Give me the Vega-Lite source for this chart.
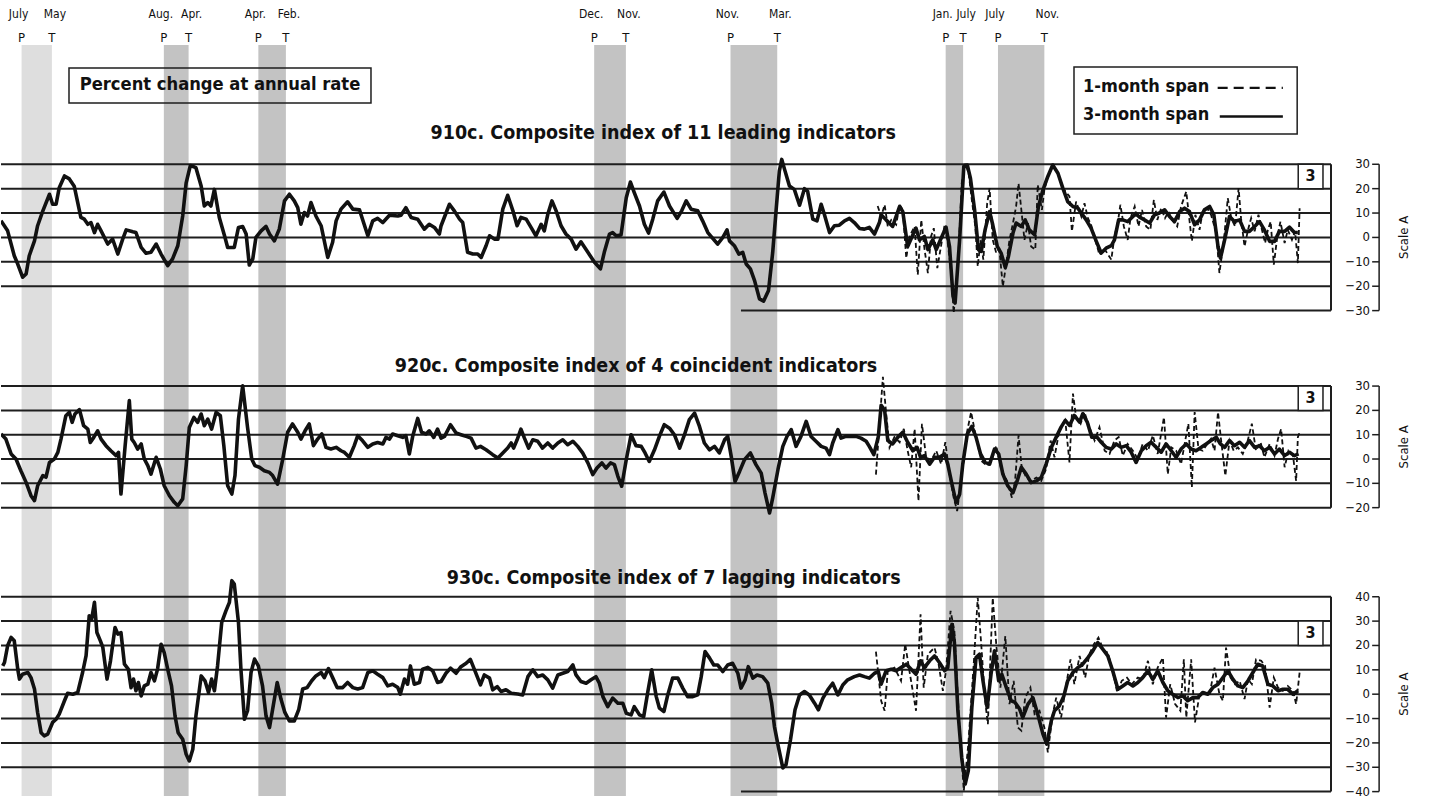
{
"$schema":"https://vega.github.io/schema/vega-lite/v6.json",
"padding":0,
"background":"white",
"spacing":0,
"bounds":"flush",
"config":{"view":{"stroke":null}},
"datasets":{
"rec":[{"s":1953.5,"e":1954.37},{"s":1957.58,"e":1958.29},{"s":1960.29,"e":1961.08},{"s":1969.92,"e":1970.83},{"s":1973.83,"e":1975.17},{"s":1980.0,"e":1980.5},{"s":1981.5,"e":1982.83}],
"pt":[{"t":1953.5,"m":"July","p":"P"},{"t":1954.37,"m":"May","p":"T"},{"t":1957.58,"m":"Aug.","p":"P"},{"t":1958.29,"m":"Apr.","p":"T"},{"t":1960.29,"m":"Apr.","p":"P"},{"t":1961.08,"m":"Feb.","p":"T"},{"t":1969.92,"m":"Dec.","p":"P"},{"t":1970.83,"m":"Nov.","p":"T"},{"t":1973.83,"m":"Nov.","p":"P"},{"t":1975.17,"m":"Mar.","p":"T"},{"t":1980.0,"m":"Jan.","p":"P"},{"t":1980.5,"m":"July","p":"T"},{"t":1981.5,"m":"July","p":"P"},{"t":1982.83,"m":"Nov.","p":"T"}],
"g1":[{"g":30},{"g":20},{"g":10},{"g":0},{"g":-10},{"g":-20},{"g":-30}],
"g2":[{"g":30},{"g":20},{"g":10},{"g":0},{"g":-10},{"g":-20}],
"g3":[{"g":40},{"g":30},{"g":20},{"g":10},{"g":0},{"g":-10},{"g":-20},{"g":-30},{"g":-40}],
"p1":[{"t":1952.91,"v":6.8},{"t":1953.10,"v":2.7},{"t":1953.29,"v":-7.5},{"t":1953.39,"v":-10.9},{"t":1953.53,"v":-16.3},{"t":1953.63,"v":-15},{"t":1953.72,"v":-7.5},{"t":1953.87,"v":-1.4},{"t":1953.96,"v":4.8},{"t":1954.11,"v":10.9},{"t":1954.30,"v":17.7},{"t":1954.39,"v":13.6},{"t":1954.49,"v":13.6},{"t":1954.58,"v":20.4},{"t":1954.73,"v":25.2},{"t":1954.87,"v":24},{"t":1955.01,"v":21},{"t":1955.20,"v":8.2},{"t":1955.30,"v":7.5},{"t":1955.40,"v":5.4},{"t":1955.49,"v":6.1},{"t":1955.59,"v":2},{"t":1955.68,"v":5.4},{"t":1955.78,"v":2.7},{"t":1955.97,"v":-2.7},{"t":1956.11,"v":-0.7},{"t":1956.26,"v":-6.8},{"t":1956.40,"v":-0.7},{"t":1956.50,"v":3.1},{"t":1956.69,"v":2.3},{"t":1956.78,"v":2},{"t":1956.93,"v":-4.1},{"t":1957.07,"v":-6.5},{"t":1957.21,"v":-6.1},{"t":1957.36,"v":-2.7},{"t":1957.50,"v":-6.8},{"t":1957.69,"v":-11.6},{"t":1957.83,"v":-8.8},{"t":1957.98,"v":-3.4},{"t":1958.12,"v":8.8},{"t":1958.22,"v":22.4},{"t":1958.34,"v":29.5},{"t":1958.50,"v":28.6},{"t":1958.65,"v":21.1},{"t":1958.74,"v":12.9},{"t":1958.84,"v":14.3},{"t":1958.93,"v":12.9},{"t":1959.03,"v":19.7},{"t":1959.17,"v":8.2},{"t":1959.32,"v":0.7},{"t":1959.41,"v":-4.1},{"t":1959.60,"v":-4.1},{"t":1959.72,"v":4.1},{"t":1959.84,"v":4.5},{"t":1959.94,"v":1.4},{"t":1960.03,"v":-11.3},{"t":1960.13,"v":-8.8},{"t":1960.22,"v":0},{"t":1960.37,"v":2.7},{"t":1960.51,"v":4.5},{"t":1960.61,"v":1.4},{"t":1960.75,"v":-1.4},{"t":1960.89,"v":3.4},{"t":1961.04,"v":15},{"t":1961.18,"v":17.7},{"t":1961.32,"v":15},{"t":1961.42,"v":12.2},{"t":1961.51,"v":5.4},{"t":1961.61,"v":10.2},{"t":1961.70,"v":8.8},{"t":1961.80,"v":14.3},{"t":1961.94,"v":8.8},{"t":1962.09,"v":4.8},{"t":1962.28,"v":-8.2},{"t":1962.42,"v":-2},{"t":1962.52,"v":6.8},{"t":1962.66,"v":11.6},{"t":1962.85,"v":14.6},{"t":1963.00,"v":11.6},{"t":1963.19,"v":11.3},{"t":1963.43,"v":0.7},{"t":1963.57,"v":6.8},{"t":1963.71,"v":7.8},{"t":1963.86,"v":6.1},{"t":1964.05,"v":9.1},{"t":1964.29,"v":8.8},{"t":1964.38,"v":9.1},{"t":1964.52,"v":12.2},{"t":1964.67,"v":8.2},{"t":1964.86,"v":7.5},{"t":1965.05,"v":3.4},{"t":1965.19,"v":5.4},{"t":1965.34,"v":4.1},{"t":1965.48,"v":1.4},{"t":1965.53,"v":4.8},{"t":1965.77,"v":13.6},{"t":1965.91,"v":10.9},{"t":1966.06,"v":7.5},{"t":1966.15,"v":6.1},{"t":1966.29,"v":-6.1},{"t":1966.44,"v":-6.8},{"t":1966.58,"v":-6.8},{"t":1966.68,"v":-8.2},{"t":1966.82,"v":-3.4},{"t":1966.92,"v":0.7},{"t":1967.06,"v":-0.7},{"t":1967.16,"v":-0.7},{"t":1967.30,"v":11.6},{"t":1967.44,"v":17.3},{"t":1967.59,"v":10.9},{"t":1967.71,"v":4.8},{"t":1967.82,"v":8.2},{"t":1967.97,"v":7.5},{"t":1968.11,"v":4.1},{"t":1968.25,"v":0.7},{"t":1968.40,"v":5.4},{"t":1968.49,"v":2.7},{"t":1968.59,"v":9.5},{"t":1968.71,"v":15},{"t":1968.83,"v":10.9},{"t":1968.97,"v":4.8},{"t":1969.11,"v":1.4},{"t":1969.26,"v":-0.7},{"t":1969.40,"v":-4.8},{"t":1969.54,"v":-1.8},{"t":1969.74,"v":-6.1},{"t":1969.93,"v":-10.2},{"t":1970.10,"v":-12.9},{"t":1970.21,"v":-6.1},{"t":1970.36,"v":1.4},{"t":1970.45,"v":2},{"t":1970.55,"v":0.7},{"t":1970.69,"v":1},{"t":1970.84,"v":16.3},{"t":1970.96,"v":22.7},{"t":1971.07,"v":18.4},{"t":1971.22,"v":12.9},{"t":1971.36,"v":5.4},{"t":1971.48,"v":1.8},{"t":1971.60,"v":7.5},{"t":1971.74,"v":15},{"t":1971.92,"v":18.6},{"t":1972.08,"v":12.9},{"t":1972.30,"v":7.8},{"t":1972.43,"v":10.9},{"t":1972.56,"v":15},{"t":1972.70,"v":11.6},{"t":1972.89,"v":10.9},{"t":1973.03,"v":6.8},{"t":1973.18,"v":2},{"t":1973.32,"v":-0.4},{"t":1973.46,"v":-2.7},{"t":1973.61,"v":0},{"t":1973.73,"v":3.1},{"t":1973.80,"v":-1.4},{"t":1973.94,"v":-3.4},{"t":1974.07,"v":-6.8},{"t":1974.18,"v":-6.1},{"t":1974.28,"v":-10.9},{"t":1974.40,"v":-12.9},{"t":1974.52,"v":-17.7},{"t":1974.66,"v":-25.2},{"t":1974.78,"v":-26.1},{"t":1974.92,"v":-21.8},{"t":1975.04,"v":-6.1},{"t":1975.14,"v":11.6},{"t":1975.23,"v":27.2},{"t":1975.30,"v":32},{"t":1975.38,"v":27.9},{"t":1975.52,"v":21.1},{"t":1975.66,"v":19.7},{"t":1975.81,"v":13.2},{"t":1975.95,"v":20},{"t":1976.04,"v":19},{"t":1976.19,"v":7.5},{"t":1976.31,"v":6.8},{"t":1976.43,"v":13.6},{"t":1976.52,"v":9.5},{"t":1976.67,"v":2},{"t":1976.81,"v":4.8},{"t":1976.95,"v":5},{"t":1977.10,"v":6.8},{"t":1977.24,"v":7.8},{"t":1977.38,"v":6.1},{"t":1977.53,"v":3.7},{"t":1977.67,"v":3.4},{"t":1977.81,"v":4.1},{"t":1977.96,"v":1.4},{"t":1978.10,"v":6.1},{"t":1978.15,"v":9.3},{"t":1978.29,"v":7.2},{"t":1978.48,"v":4.5},{"t":1978.68,"v":12.7},{"t":1978.77,"v":10.6},{"t":1978.91,"v":-3.7},{"t":1979.06,"v":1.1},{"t":1979.15,"v":3.8},{"t":1979.25,"v":-1},{"t":1979.39,"v":0.4},{"t":1979.49,"v":-5},{"t":1979.63,"v":-1},{"t":1979.73,"v":-5},{"t":1979.87,"v":-0.3},{"t":1980.01,"v":4.2},{"t":1980.11,"v":-3.7},{"t":1980.21,"v":-24.1},{"t":1980.27,"v":-26.9},{"t":1980.40,"v":-1},{"t":1980.52,"v":29.1},{"t":1980.62,"v":29.7},{"t":1980.71,"v":24.3},{"t":1980.83,"v":11.3},{"t":1980.94,"v":-5},{"t":1981.02,"v":-5.7},{"t":1981.13,"v":3.1},{"t":1981.26,"v":10.6},{"t":1981.35,"v":5.2},{"t":1981.48,"v":-3.7},{"t":1981.59,"v":-6.4},{"t":1981.71,"v":-12.3},{"t":1981.80,"v":-7.8},{"t":1981.93,"v":1.8},{"t":1982.02,"v":5.9},{"t":1982.17,"v":4.5},{"t":1982.28,"v":7.2},{"t":1982.40,"v":3.1},{"t":1982.55,"v":1.1},{"t":1982.66,"v":12.7},{"t":1982.79,"v":19.5},{"t":1982.93,"v":25},{"t":1983.07,"v":29.7},{"t":1983.22,"v":26.3},{"t":1983.36,"v":20.2},{"t":1983.50,"v":14.7},{"t":1983.65,"v":12.7},{"t":1983.79,"v":12},{"t":1983.89,"v":10},{"t":1984.03,"v":7.2},{"t":1984.17,"v":3.8},{"t":1984.32,"v":-1.6},{"t":1984.46,"v":-6.4},{"t":1984.60,"v":-4.4},{"t":1984.75,"v":-3.4},{"t":1984.84,"v":-1},{"t":1984.96,"v":7.2},{"t":1985.08,"v":7.2},{"t":1985.22,"v":6.5},{"t":1985.37,"v":8.6},{"t":1985.46,"v":9.7},{"t":1985.56,"v":8.3},{"t":1985.70,"v":7.2},{"t":1985.85,"v":5.9},{"t":1985.99,"v":9.3},{"t":1986.13,"v":10},{"t":1986.28,"v":11.3},{"t":1986.42,"v":8.6},{"t":1986.56,"v":6.5},{"t":1986.71,"v":10.6},{"t":1986.85,"v":12},{"t":1986.99,"v":10.6},{"t":1987.14,"v":5.2},{"t":1987.28,"v":7.2},{"t":1987.42,"v":11.3},{"t":1987.57,"v":12.7},{"t":1987.69,"v":9.3},{"t":1987.81,"v":-3.7},{"t":1987.88,"v":-8.5},{"t":1988.00,"v":-1},{"t":1988.14,"v":8.6},{"t":1988.28,"v":6.5},{"t":1988.43,"v":7.2},{"t":1988.57,"v":2.5},{"t":1988.71,"v":2.5},{"t":1988.86,"v":4.5},{"t":1989.00,"v":6.5},{"t":1989.14,"v":3.1},{"t":1989.29,"v":-1.6},{"t":1989.43,"v":-1.6},{"t":1989.57,"v":2.5},{"t":1989.72,"v":2.5},{"t":1989.86,"v":4.2},{"t":1990.00,"v":2},{"t":1990.10,"v":2}],
"p1d":[{"t":1978.05,"v":12.9},{"t":1978.15,"v":8.6},{"t":1978.25,"v":13.4},{"t":1978.34,"v":4.5},{"t":1978.44,"v":7.2},{"t":1978.58,"v":5.2},{"t":1978.68,"v":13.4},{"t":1978.77,"v":11.3},{"t":1978.87,"v":-8.5},{"t":1978.96,"v":0.4},{"t":1979.11,"v":4.5},{"t":1979.20,"v":-15.3},{"t":1979.30,"v":7.2},{"t":1979.39,"v":-4.4},{"t":1979.49,"v":-14.6},{"t":1979.58,"v":0.4},{"t":1979.66,"v":3.8},{"t":1979.76,"v":-12.6},{"t":1979.85,"v":-5},{"t":1979.97,"v":5.2},{"t":1980.06,"v":-2.3},{"t":1980.16,"v":-14.6},{"t":1980.23,"v":-31},{"t":1980.35,"v":-11.9},{"t":1980.46,"v":22.2},{"t":1980.56,"v":30.4},{"t":1980.66,"v":26.3},{"t":1980.75,"v":15.4},{"t":1980.85,"v":4.5},{"t":1980.92,"v":-11.9},{"t":1981.00,"v":-1},{"t":1981.08,"v":-9.1},{"t":1981.19,"v":14},{"t":1981.26,"v":20.2},{"t":1981.35,"v":-1},{"t":1981.45,"v":-6.4},{"t":1981.54,"v":-5},{"t":1981.64,"v":-20.1},{"t":1981.74,"v":-10.5},{"t":1981.83,"v":-1},{"t":1981.93,"v":5.9},{"t":1982.02,"v":12.7},{"t":1982.09,"v":22.2},{"t":1982.17,"v":11.3},{"t":1982.26,"v":-1},{"t":1982.36,"v":5.9},{"t":1982.45,"v":-3.7},{"t":1982.57,"v":-5},{"t":1982.64,"v":21.6},{"t":1982.76,"v":11.3},{"t":1982.83,"v":19.5},{"t":1982.93,"v":25},{"t":1983.07,"v":29.7},{"t":1983.22,"v":26.3},{"t":1983.36,"v":20.2},{"t":1983.55,"v":16.8},{"t":1983.62,"v":2.5},{"t":1983.74,"v":14.7},{"t":1983.89,"v":8.6},{"t":1983.98,"v":14},{"t":1984.08,"v":7.9},{"t":1984.17,"v":5.2},{"t":1984.41,"v":-7.1},{"t":1984.54,"v":-4.4},{"t":1984.75,"v":-9.1},{"t":1984.84,"v":0.4},{"t":1984.94,"v":6.5},{"t":1985.01,"v":13.4},{"t":1985.11,"v":4.5},{"t":1985.22,"v":-1},{"t":1985.30,"v":7.9},{"t":1985.42,"v":12.7},{"t":1985.53,"v":4.5},{"t":1985.63,"v":11.3},{"t":1985.75,"v":4.5},{"t":1985.87,"v":3.1},{"t":1985.97,"v":15.4},{"t":1986.07,"v":7.2},{"t":1986.18,"v":12},{"t":1986.29,"v":7.9},{"t":1986.39,"v":10.6},{"t":1986.49,"v":7.2},{"t":1986.64,"v":4.5},{"t":1986.75,"v":12.7},{"t":1986.90,"v":18.8},{"t":1986.99,"v":7.2},{"t":1987.06,"v":-1.6},{"t":1987.16,"v":9.3},{"t":1987.28,"v":3.1},{"t":1987.37,"v":10.6},{"t":1987.50,"v":12},{"t":1987.61,"v":9.3},{"t":1987.76,"v":1.8},{"t":1987.85,"v":-14.6},{"t":1987.98,"v":-1},{"t":1988.09,"v":16.1},{"t":1988.19,"v":7.9},{"t":1988.30,"v":4.5},{"t":1988.40,"v":20.2},{"t":1988.47,"v":7.9},{"t":1988.57,"v":-3.7},{"t":1988.67,"v":3.1},{"t":1988.76,"v":7.9},{"t":1988.86,"v":2.5},{"t":1988.97,"v":9.3},{"t":1989.07,"v":3.1},{"t":1989.16,"v":-2.3},{"t":1989.24,"v":3.1},{"t":1989.32,"v":6.5},{"t":1989.41,"v":-11.2},{"t":1989.51,"v":0.4},{"t":1989.60,"v":6.5},{"t":1989.72,"v":-2.3},{"t":1989.81,"v":3.1},{"t":1989.93,"v":-1},{"t":1990.02,"v":2.5},{"t":1990.10,"v":-10.5},{"t":1990.15,"v":12}],
"p2":[{"t":1952.91,"v":10.3},{"t":1953.05,"v":8.2},{"t":1953.20,"v":2.1},{"t":1953.34,"v":0},{"t":1953.48,"v":-4.8},{"t":1953.63,"v":-9.6},{"t":1953.77,"v":-15.1},{"t":1953.87,"v":-17.1},{"t":1953.96,"v":-11},{"t":1954.11,"v":-6.8},{"t":1954.20,"v":-7.5},{"t":1954.30,"v":-1.4},{"t":1954.44,"v":0},{"t":1954.54,"v":2.7},{"t":1954.63,"v":8.2},{"t":1954.77,"v":17.8},{"t":1954.87,"v":19.2},{"t":1954.95,"v":15.1},{"t":1955.03,"v":18.5},{"t":1955.16,"v":20.3},{"t":1955.28,"v":13.7},{"t":1955.40,"v":12.3},{"t":1955.47,"v":6.8},{"t":1955.57,"v":8.9},{"t":1955.68,"v":11.6},{"t":1955.78,"v":8.2},{"t":1955.92,"v":5.5},{"t":1956.06,"v":3.4},{"t":1956.21,"v":1.4},{"t":1956.28,"v":2.7},{"t":1956.35,"v":-14.4},{"t":1956.47,"v":5.5},{"t":1956.59,"v":24},{"t":1956.66,"v":8.2},{"t":1956.73,"v":6.8},{"t":1956.83,"v":4.1},{"t":1956.93,"v":6.2},{"t":1957.02,"v":0},{"t":1957.12,"v":-2.7},{"t":1957.21,"v":-6.2},{"t":1957.36,"v":0.7},{"t":1957.48,"v":-4.1},{"t":1957.59,"v":-11},{"t":1957.74,"v":-15.1},{"t":1957.88,"v":-17.8},{"t":1957.98,"v":-19.2},{"t":1958.12,"v":-16.4},{"t":1958.22,"v":-2.7},{"t":1958.31,"v":13},{"t":1958.44,"v":17.1},{"t":1958.55,"v":15.1},{"t":1958.65,"v":18.5},{"t":1958.74,"v":13.7},{"t":1958.84,"v":16.4},{"t":1958.95,"v":12.3},{"t":1959.08,"v":19.2},{"t":1959.20,"v":17.8},{"t":1959.30,"v":5.5},{"t":1959.41,"v":-11},{"t":1959.53,"v":-14.4},{"t":1959.62,"v":-6.8},{"t":1959.72,"v":16.4},{"t":1959.84,"v":30.1},{"t":1959.98,"v":13},{"t":1960.10,"v":0},{"t":1960.19,"v":-2.7},{"t":1960.32,"v":-3.4},{"t":1960.46,"v":-4.8},{"t":1960.61,"v":-5.5},{"t":1960.70,"v":-6.8},{"t":1960.84,"v":-10.3},{"t":1960.99,"v":0},{"t":1961.13,"v":11},{"t":1961.27,"v":14.4},{"t":1961.42,"v":11},{"t":1961.51,"v":8.2},{"t":1961.63,"v":11.6},{"t":1961.75,"v":14.4},{"t":1961.87,"v":5.5},{"t":1961.99,"v":8.2},{"t":1962.11,"v":10.3},{"t":1962.23,"v":4.8},{"t":1962.37,"v":4.1},{"t":1962.52,"v":4.8},{"t":1962.66,"v":3.4},{"t":1962.76,"v":2.7},{"t":1962.90,"v":0.7},{"t":1963.04,"v":5.5},{"t":1963.14,"v":9.6},{"t":1963.28,"v":7.5},{"t":1963.43,"v":4.8},{"t":1963.57,"v":6.2},{"t":1963.71,"v":6.8},{"t":1963.86,"v":6.2},{"t":1963.95,"v":8.9},{"t":1964.05,"v":8.2},{"t":1964.14,"v":10.3},{"t":1964.29,"v":9.6},{"t":1964.43,"v":8.9},{"t":1964.52,"v":9.6},{"t":1964.62,"v":2.1},{"t":1964.72,"v":9.6},{"t":1964.86,"v":16.7},{"t":1964.97,"v":11},{"t":1965.10,"v":10.3},{"t":1965.19,"v":11.6},{"t":1965.32,"v":8.9},{"t":1965.43,"v":12.3},{"t":1965.53,"v":8.6},{"t":1965.63,"v":9.3},{"t":1965.80,"v":14.1},{"t":1965.96,"v":10.7},{"t":1966.10,"v":10},{"t":1966.25,"v":9.3},{"t":1966.39,"v":8.6},{"t":1966.53,"v":4.5},{"t":1966.66,"v":5.2},{"t":1966.82,"v":3.8},{"t":1967.01,"v":1.8},{"t":1967.16,"v":0.4},{"t":1967.30,"v":2.5},{"t":1967.44,"v":4.5},{"t":1967.54,"v":6.6},{"t":1967.61,"v":4.5},{"t":1967.71,"v":7.9},{"t":1967.82,"v":12.3},{"t":1967.92,"v":8.6},{"t":1968.04,"v":4.5},{"t":1968.16,"v":7.9},{"t":1968.30,"v":7.3},{"t":1968.44,"v":4.5},{"t":1968.59,"v":6.6},{"t":1968.73,"v":4.5},{"t":1968.88,"v":6.6},{"t":1969.02,"v":7.9},{"t":1969.16,"v":5.9},{"t":1969.31,"v":7.3},{"t":1969.45,"v":5.2},{"t":1969.59,"v":2.5},{"t":1969.74,"v":-1.6},{"t":1969.88,"v":-6.4},{"t":1970.00,"v":-3.7},{"t":1970.14,"v":-1.6},{"t":1970.26,"v":-3.7},{"t":1970.39,"v":-1.6},{"t":1970.50,"v":-2.3},{"t":1970.60,"v":-7.1},{"t":1970.71,"v":-11.2},{"t":1970.84,"v":-0.3},{"t":1970.98,"v":10},{"t":1971.12,"v":5.5},{"t":1971.27,"v":5.2},{"t":1971.38,"v":2.5},{"t":1971.50,"v":-1},{"t":1971.65,"v":3.8},{"t":1971.79,"v":9.3},{"t":1971.93,"v":14.1},{"t":1972.08,"v":12.7},{"t":1972.22,"v":10},{"t":1972.37,"v":4.5},{"t":1972.51,"v":10},{"t":1972.65,"v":16.2},{"t":1972.80,"v":18.9},{"t":1972.94,"v":13.4},{"t":1973.08,"v":6.6},{"t":1973.23,"v":3.8},{"t":1973.37,"v":5.2},{"t":1973.51,"v":2.5},{"t":1973.66,"v":7.9},{"t":1973.75,"v":9.3},{"t":1973.85,"v":1.1},{"t":1973.96,"v":-9.2},{"t":1974.09,"v":-5.1},{"t":1974.23,"v":-0.3},{"t":1974.40,"v":2.5},{"t":1974.56,"v":-2.3},{"t":1974.71,"v":-5.8},{"t":1974.82,"v":-14},{"t":1974.95,"v":-22.2},{"t":1975.04,"v":-16},{"t":1975.19,"v":-4.4},{"t":1975.33,"v":5.2},{"t":1975.45,"v":9.3},{"t":1975.57,"v":12.1},{"t":1975.71,"v":5.2},{"t":1975.85,"v":9.3},{"t":1976.00,"v":15.5},{"t":1976.14,"v":9.3},{"t":1976.28,"v":7.3},{"t":1976.43,"v":5.2},{"t":1976.57,"v":4.5},{"t":1976.67,"v":1.8},{"t":1976.76,"v":6.6},{"t":1976.91,"v":12.1},{"t":1977.00,"v":8.6},{"t":1977.14,"v":9.3},{"t":1977.29,"v":9.3},{"t":1977.43,"v":9.3},{"t":1977.57,"v":8.6},{"t":1977.72,"v":7.3},{"t":1977.81,"v":5.2},{"t":1977.94,"v":1.8},{"t":1978.07,"v":9.3},{"t":1978.15,"v":22.1},{"t":1978.25,"v":20},{"t":1978.34,"v":7.6},{"t":1978.48,"v":6.2},{"t":1978.63,"v":9},{"t":1978.77,"v":11},{"t":1978.91,"v":6.9},{"t":1979.06,"v":3.4},{"t":1979.18,"v":4.8},{"t":1979.28,"v":0.7},{"t":1979.39,"v":1.4},{"t":1979.54,"v":-2.1},{"t":1979.68,"v":0.7},{"t":1979.82,"v":0.7},{"t":1979.97,"v":2.1},{"t":1980.06,"v":-2.1},{"t":1980.18,"v":-10.3},{"t":1980.30,"v":-17.9},{"t":1980.40,"v":-14.5},{"t":1980.49,"v":-2.1},{"t":1980.62,"v":10.3},{"t":1980.75,"v":13.4},{"t":1980.87,"v":9},{"t":1981.00,"v":2.1},{"t":1981.13,"v":-1.4},{"t":1981.26,"v":-2.1},{"t":1981.40,"v":4.1},{"t":1981.52,"v":2.1},{"t":1981.64,"v":-6.2},{"t":1981.78,"v":-11},{"t":1981.93,"v":-13.8},{"t":1982.05,"v":-9},{"t":1982.17,"v":-3.4},{"t":1982.31,"v":-6.2},{"t":1982.45,"v":-9.7},{"t":1982.60,"v":-9},{"t":1982.74,"v":-7.6},{"t":1982.88,"v":-2.1},{"t":1983.03,"v":4.8},{"t":1983.17,"v":9},{"t":1983.31,"v":13.1},{"t":1983.43,"v":15.9},{"t":1983.55,"v":13.8},{"t":1983.69,"v":17.9},{"t":1983.84,"v":15.2},{"t":1983.93,"v":18.6},{"t":1984.06,"v":15.2},{"t":1984.19,"v":9},{"t":1984.34,"v":9},{"t":1984.46,"v":6.9},{"t":1984.60,"v":4.8},{"t":1984.75,"v":4.1},{"t":1984.89,"v":6.2},{"t":1985.03,"v":4.8},{"t":1985.18,"v":5.5},{"t":1985.32,"v":2.8},{"t":1985.46,"v":-1.4},{"t":1985.61,"v":3.4},{"t":1985.75,"v":5.5},{"t":1985.89,"v":6.9},{"t":1986.04,"v":4.8},{"t":1986.18,"v":2.8},{"t":1986.32,"v":6.2},{"t":1986.47,"v":3.4},{"t":1986.61,"v":0.7},{"t":1986.75,"v":4.1},{"t":1986.90,"v":6.2},{"t":1987.04,"v":4.1},{"t":1987.18,"v":3.4},{"t":1987.33,"v":4.8},{"t":1987.47,"v":6.2},{"t":1987.61,"v":7.6},{"t":1987.76,"v":9},{"t":1987.88,"v":6.2},{"t":1988.00,"v":4.8},{"t":1988.14,"v":7.6},{"t":1988.28,"v":5.5},{"t":1988.43,"v":6.9},{"t":1988.57,"v":4.8},{"t":1988.71,"v":7.6},{"t":1988.86,"v":4.8},{"t":1989.00,"v":5.5},{"t":1989.14,"v":3.4},{"t":1989.29,"v":4.8},{"t":1989.43,"v":2.1},{"t":1989.57,"v":4.1},{"t":1989.72,"v":1.4},{"t":1989.86,"v":2.8},{"t":1990.00,"v":1.4},{"t":1990.12,"v":2.1}],
"p2d":[{"t":1978.00,"v":-6.4},{"t":1978.20,"v":33.8},{"t":1978.29,"v":19.3},{"t":1978.39,"v":4.8},{"t":1978.53,"v":9},{"t":1978.68,"v":6.9},{"t":1978.80,"v":12.4},{"t":1978.91,"v":3.4},{"t":1979.01,"v":-3.4},{"t":1979.11,"v":12.4},{"t":1979.22,"v":-17.2},{"t":1979.32,"v":14.5},{"t":1979.44,"v":0.7},{"t":1979.58,"v":-0.7},{"t":1979.73,"v":3.4},{"t":1979.87,"v":-2.1},{"t":1979.99,"v":6.9},{"t":1980.11,"v":-6.2},{"t":1980.23,"v":-15.9},{"t":1980.33,"v":-21.4},{"t":1980.44,"v":-9},{"t":1980.62,"v":11.7},{"t":1980.73,"v":19.3},{"t":1980.85,"v":10.3},{"t":1981.02,"v":-0.7},{"t":1981.19,"v":-2.8},{"t":1981.32,"v":-0.7},{"t":1981.45,"v":5.5},{"t":1981.59,"v":-4.1},{"t":1981.76,"v":-9},{"t":1981.90,"v":-15.9},{"t":1981.99,"v":-9},{"t":1982.09,"v":9.7},{"t":1982.18,"v":-3.4},{"t":1982.31,"v":-7.6},{"t":1982.45,"v":-9},{"t":1982.60,"v":-7.6},{"t":1982.74,"v":-9},{"t":1982.88,"v":-4.1},{"t":1983.01,"v":7.6},{"t":1983.12,"v":0.7},{"t":1983.26,"v":11.7},{"t":1983.43,"v":15.9},{"t":1983.55,"v":-1.4},{"t":1983.65,"v":26.9},{"t":1983.74,"v":17.2},{"t":1983.87,"v":14.5},{"t":1983.98,"v":19.3},{"t":1984.12,"v":13.1},{"t":1984.27,"v":7.6},{"t":1984.41,"v":13.1},{"t":1984.56,"v":3.4},{"t":1984.70,"v":2.1},{"t":1984.84,"v":7.6},{"t":1984.96,"v":9},{"t":1985.08,"v":1.4},{"t":1985.22,"v":6.2},{"t":1985.37,"v":3.4},{"t":1985.51,"v":0},{"t":1985.65,"v":6.2},{"t":1985.80,"v":3.4},{"t":1985.94,"v":9.7},{"t":1986.08,"v":2.1},{"t":1986.26,"v":17.2},{"t":1986.37,"v":-6.2},{"t":1986.47,"v":4.8},{"t":1986.61,"v":3.4},{"t":1986.75,"v":-2.1},{"t":1986.87,"v":7.6},{"t":1986.96,"v":14.5},{"t":1987.06,"v":-11.7},{"t":1987.14,"v":19.3},{"t":1987.25,"v":4.1},{"t":1987.37,"v":3.4},{"t":1987.50,"v":6.2},{"t":1987.61,"v":8.3},{"t":1987.71,"v":3.4},{"t":1987.81,"v":19.3},{"t":1987.90,"v":7.6},{"t":1988.02,"v":-6.9},{"t":1988.14,"v":7.6},{"t":1988.26,"v":3.4},{"t":1988.38,"v":4.8},{"t":1988.52,"v":2.1},{"t":1988.65,"v":6.9},{"t":1988.78,"v":14.5},{"t":1988.90,"v":3.4},{"t":1989.03,"v":6.9},{"t":1989.14,"v":0.7},{"t":1989.29,"v":6.2},{"t":1989.43,"v":1.4},{"t":1989.53,"v":8.3},{"t":1989.62,"v":12.4},{"t":1989.72,"v":-3.4},{"t":1989.83,"v":3.4},{"t":1989.96,"v":1.4},{"t":1990.05,"v":-9},{"t":1990.10,"v":9},{"t":1990.15,"v":11}],
"p3":[{"t":1952.96,"v":11.6},{"t":1953.01,"v":13},{"t":1953.10,"v":19.9},{"t":1953.20,"v":23.3},{"t":1953.29,"v":21.9},{"t":1953.39,"v":10.3},{"t":1953.44,"v":6.2},{"t":1953.53,"v":8.2},{"t":1953.68,"v":8.9},{"t":1953.77,"v":6.8},{"t":1953.87,"v":2.1},{"t":1953.96,"v":-7.5},{"t":1954.06,"v":-15.8},{"t":1954.15,"v":-17.1},{"t":1954.25,"v":-16.4},{"t":1954.39,"v":-11.6},{"t":1954.49,"v":-10.3},{"t":1954.58,"v":-8.2},{"t":1954.73,"v":-2.7},{"t":1954.82,"v":0.4},{"t":1954.97,"v":0},{"t":1955.11,"v":0.7},{"t":1955.25,"v":8.9},{"t":1955.35,"v":15.8},{"t":1955.44,"v":32.2},{"t":1955.51,"v":30.8},{"t":1955.59,"v":37.7},{"t":1955.66,"v":25.3},{"t":1955.76,"v":21.9},{"t":1955.83,"v":19.2},{"t":1955.95,"v":6.2},{"t":1956.05,"v":13.7},{"t":1956.18,"v":27.4},{"t":1956.26,"v":24.7},{"t":1956.35,"v":25.3},{"t":1956.45,"v":12.3},{"t":1956.56,"v":10.3},{"t":1956.64,"v":2.7},{"t":1956.71,"v":6.2},{"t":1956.78,"v":1.4},{"t":1956.85,"v":4.8},{"t":1956.93,"v":-0.7},{"t":1957.02,"v":3.4},{"t":1957.12,"v":4.1},{"t":1957.21,"v":8.9},{"t":1957.31,"v":5.5},{"t":1957.40,"v":10.3},{"t":1957.50,"v":20.5},{"t":1957.59,"v":17.1},{"t":1957.69,"v":10.3},{"t":1957.80,"v":3.4},{"t":1957.90,"v":-8.9},{"t":1957.99,"v":-15.8},{"t":1958.12,"v":-18.5},{"t":1958.22,"v":-24.7},{"t":1958.31,"v":-27.4},{"t":1958.41,"v":-22.6},{"t":1958.50,"v":-8.9},{"t":1958.65,"v":7.5},{"t":1958.76,"v":5.5},{"t":1958.86,"v":0.7},{"t":1958.95,"v":6.2},{"t":1959.03,"v":1.4},{"t":1959.12,"v":11.6},{"t":1959.24,"v":29.5},{"t":1959.36,"v":34.2},{"t":1959.46,"v":37.7},{"t":1959.53,"v":46.6},{"t":1959.60,"v":45.2},{"t":1959.72,"v":29.5},{"t":1959.79,"v":10.3},{"t":1959.89,"v":-10.3},{"t":1959.98,"v":-6.8},{"t":1960.08,"v":8.9},{"t":1960.18,"v":14.4},{"t":1960.29,"v":11.6},{"t":1960.41,"v":3.4},{"t":1960.51,"v":-8.9},{"t":1960.61,"v":-13.7},{"t":1960.70,"v":-6.2},{"t":1960.83,"v":4.8},{"t":1960.94,"v":-2.1},{"t":1961.05,"v":-7.5},{"t":1961.18,"v":-11},{"t":1961.32,"v":-11},{"t":1961.45,"v":-6.2},{"t":1961.56,"v":2.1},{"t":1961.69,"v":2.7},{"t":1961.82,"v":5.5},{"t":1961.94,"v":7.5},{"t":1962.09,"v":8.9},{"t":1962.18,"v":6.8},{"t":1962.30,"v":10.5},{"t":1962.42,"v":6.8},{"t":1962.55,"v":2.7},{"t":1962.71,"v":2.7},{"t":1962.85,"v":4.8},{"t":1963.00,"v":2.7},{"t":1963.14,"v":2.1},{"t":1963.28,"v":2.7},{"t":1963.43,"v":8.9},{"t":1963.57,"v":9.6},{"t":1963.71,"v":8.2},{"t":1963.86,"v":6.8},{"t":1964.00,"v":3.4},{"t":1964.14,"v":4.1},{"t":1964.29,"v":2.7},{"t":1964.36,"v":0},{"t":1964.48,"v":6.2},{"t":1964.57,"v":4.1},{"t":1964.65,"v":11.6},{"t":1964.76,"v":4.1},{"t":1964.91,"v":4.8},{"t":1965.00,"v":10.3},{"t":1965.15,"v":11},{"t":1965.29,"v":9.6},{"t":1965.43,"v":4.8},{"t":1965.53,"v":5.2},{"t":1965.67,"v":8.6},{"t":1965.80,"v":10.7},{"t":1965.96,"v":8.6},{"t":1966.10,"v":11.3},{"t":1966.25,"v":12.7},{"t":1966.37,"v":14.3},{"t":1966.49,"v":10},{"t":1966.66,"v":3.8},{"t":1966.77,"v":7.9},{"t":1966.92,"v":6.6},{"t":1967.01,"v":1.8},{"t":1967.14,"v":3.1},{"t":1967.25,"v":1.1},{"t":1967.39,"v":1.8},{"t":1967.54,"v":0.4},{"t":1967.73,"v":0.1},{"t":1967.87,"v":-0.3},{"t":1968.02,"v":7.2},{"t":1968.16,"v":10},{"t":1968.30,"v":7.2},{"t":1968.44,"v":7.9},{"t":1968.59,"v":5.9},{"t":1968.73,"v":2.5},{"t":1968.88,"v":7.9},{"t":1969.02,"v":8.6},{"t":1969.16,"v":9.3},{"t":1969.31,"v":12},{"t":1969.40,"v":7.9},{"t":1969.54,"v":5.2},{"t":1969.69,"v":4.5},{"t":1969.83,"v":5.9},{"t":1969.97,"v":7.2},{"t":1970.07,"v":4.5},{"t":1970.17,"v":-1},{"t":1970.31,"v":-5.1},{"t":1970.45,"v":-1.6},{"t":1970.60,"v":-3.7},{"t":1970.74,"v":-3.7},{"t":1970.84,"v":-7.8},{"t":1970.98,"v":-8.5},{"t":1971.07,"v":-5.1},{"t":1971.22,"v":-8.5},{"t":1971.34,"v":-9.2},{"t":1971.46,"v":1.1},{"t":1971.57,"v":10},{"t":1971.70,"v":-1},{"t":1971.79,"v":-5.7},{"t":1971.92,"v":-7.1},{"t":1972.03,"v":-0.3},{"t":1972.17,"v":6.6},{"t":1972.32,"v":6.6},{"t":1972.46,"v":2.5},{"t":1972.60,"v":-1},{"t":1972.75,"v":-1},{"t":1972.89,"v":-0.3},{"t":1972.99,"v":7.2},{"t":1973.10,"v":17.5},{"t":1973.23,"v":14.8},{"t":1973.35,"v":12},{"t":1973.46,"v":12},{"t":1973.61,"v":9.3},{"t":1973.75,"v":12},{"t":1973.89,"v":12.7},{"t":1974.04,"v":8.6},{"t":1974.13,"v":2.5},{"t":1974.25,"v":5.9},{"t":1974.34,"v":11.3},{"t":1974.47,"v":6.6},{"t":1974.59,"v":7.9},{"t":1974.75,"v":7.2},{"t":1974.90,"v":4.5},{"t":1975.01,"v":-3.7},{"t":1975.09,"v":-13.3},{"t":1975.20,"v":-21.4},{"t":1975.33,"v":-30.3},{"t":1975.42,"v":-29},{"t":1975.55,"v":-18.7},{"t":1975.68,"v":-6.4},{"t":1975.81,"v":-0.3},{"t":1975.95,"v":1.1},{"t":1976.09,"v":-0.3},{"t":1976.24,"v":-3.7},{"t":1976.35,"v":-6.4},{"t":1976.48,"v":-1.6},{"t":1976.62,"v":1.8},{"t":1976.76,"v":4.5},{"t":1976.91,"v":-0.3},{"t":1977.05,"v":3.8},{"t":1977.19,"v":5.9},{"t":1977.38,"v":7.2},{"t":1977.53,"v":7.9},{"t":1977.67,"v":7.2},{"t":1977.81,"v":6.6},{"t":1977.96,"v":8.6},{"t":1978.07,"v":9.3},{"t":1978.15,"v":4.1},{"t":1978.29,"v":9.6},{"t":1978.44,"v":10.2},{"t":1978.58,"v":9.6},{"t":1978.72,"v":10.9},{"t":1978.87,"v":12.3},{"t":1979.01,"v":10.2},{"t":1979.15,"v":8.2},{"t":1979.28,"v":13.7},{"t":1979.39,"v":10.9},{"t":1979.54,"v":13.7},{"t":1979.68,"v":15.7},{"t":1979.82,"v":13},{"t":1979.97,"v":9.6},{"t":1980.06,"v":10.9},{"t":1980.18,"v":28.7},{"t":1980.25,"v":21.2},{"t":1980.35,"v":-6.8},{"t":1980.46,"v":-26},{"t":1980.56,"v":-36.9},{"t":1980.65,"v":-31.4},{"t":1980.75,"v":-5.5},{"t":1980.87,"v":15},{"t":1980.97,"v":16.4},{"t":1981.07,"v":5.5},{"t":1981.19,"v":-5.5},{"t":1981.30,"v":8.2},{"t":1981.40,"v":17.8},{"t":1981.52,"v":5.5},{"t":1981.61,"v":8.2},{"t":1981.74,"v":2.7},{"t":1981.88,"v":-2.7},{"t":1981.99,"v":-3.4},{"t":1982.12,"v":-6.1},{"t":1982.21,"v":-9.6},{"t":1982.36,"v":-4.1},{"t":1982.50,"v":-1.4},{"t":1982.64,"v":-8.2},{"t":1982.79,"v":-16.4},{"t":1982.90,"v":-20.5},{"t":1983.03,"v":-10.9},{"t":1983.12,"v":-6.8},{"t":1983.26,"v":-4.8},{"t":1983.39,"v":-0.7},{"t":1983.50,"v":5.5},{"t":1983.65,"v":8.9},{"t":1983.79,"v":10.9},{"t":1983.93,"v":12.3},{"t":1984.08,"v":15},{"t":1984.22,"v":17.8},{"t":1984.36,"v":21.2},{"t":1984.51,"v":18.4},{"t":1984.65,"v":15.7},{"t":1984.79,"v":9.6},{"t":1984.94,"v":2},{"t":1985.08,"v":3.4},{"t":1985.22,"v":4.8},{"t":1985.37,"v":3.4},{"t":1985.51,"v":4.8},{"t":1985.65,"v":6.8},{"t":1985.80,"v":9.6},{"t":1985.94,"v":6.1},{"t":1986.08,"v":9.6},{"t":1986.23,"v":4.8},{"t":1986.37,"v":1.4},{"t":1986.51,"v":0},{"t":1986.66,"v":-1.4},{"t":1986.80,"v":-0.7},{"t":1986.94,"v":-2.7},{"t":1987.09,"v":-1.4},{"t":1987.23,"v":-1.4},{"t":1987.37,"v":0.7},{"t":1987.52,"v":0},{"t":1987.66,"v":2.7},{"t":1987.81,"v":4.1},{"t":1987.95,"v":6.8},{"t":1988.09,"v":9.6},{"t":1988.24,"v":6.1},{"t":1988.38,"v":3.4},{"t":1988.52,"v":2.7},{"t":1988.67,"v":5.5},{"t":1988.81,"v":8.9},{"t":1988.95,"v":12.3},{"t":1989.09,"v":11.6},{"t":1989.24,"v":4.1},{"t":1989.38,"v":3.4},{"t":1989.53,"v":1.4},{"t":1989.67,"v":2},{"t":1989.81,"v":2},{"t":1989.96,"v":0},{"t":1990.10,"v":1.4}],
"p3d":[{"t":1978.00,"v":17.5},{"t":1978.15,"v":-2.7},{"t":1978.25,"v":-6.8},{"t":1978.34,"v":9.6},{"t":1978.53,"v":10.9},{"t":1978.72,"v":5.5},{"t":1978.84,"v":20.5},{"t":1978.96,"v":9.6},{"t":1979.15,"v":-6.8},{"t":1979.28,"v":32.8},{"t":1979.37,"v":2.7},{"t":1979.49,"v":16.4},{"t":1979.68,"v":19.1},{"t":1979.79,"v":13},{"t":1979.92,"v":1.4},{"t":1980.01,"v":9.6},{"t":1980.14,"v":34.2},{"t":1980.25,"v":26},{"t":1980.40,"v":-15},{"t":1980.52,"v":-39.6},{"t":1980.65,"v":-20.5},{"t":1980.81,"v":13.7},{"t":1980.92,"v":39.6},{"t":1981.02,"v":20.5},{"t":1981.13,"v":-2.7},{"t":1981.21,"v":-12.3},{"t":1981.35,"v":39.6},{"t":1981.45,"v":20.5},{"t":1981.57,"v":2.7},{"t":1981.71,"v":23.9},{"t":1981.83,"v":-4.1},{"t":1981.95,"v":5.5},{"t":1982.07,"v":-13.7},{"t":1982.17,"v":-15},{"t":1982.28,"v":-1.4},{"t":1982.43,"v":2.7},{"t":1982.55,"v":-8.2},{"t":1982.69,"v":-6.8},{"t":1982.83,"v":-13.7},{"t":1982.93,"v":-23.9},{"t":1983.07,"v":-8.2},{"t":1983.17,"v":-1.4},{"t":1983.31,"v":-9.6},{"t":1983.46,"v":4.1},{"t":1983.58,"v":14.3},{"t":1983.69,"v":4.1},{"t":1983.84,"v":15.7},{"t":1984.00,"v":6.8},{"t":1984.12,"v":16.4},{"t":1984.25,"v":20.5},{"t":1984.38,"v":23.2},{"t":1984.54,"v":17.8},{"t":1984.65,"v":17.1},{"t":1984.79,"v":9.6},{"t":1984.92,"v":0.7},{"t":1985.05,"v":5.5},{"t":1985.20,"v":6.8},{"t":1985.34,"v":4.1},{"t":1985.51,"v":6.8},{"t":1985.65,"v":6.1},{"t":1985.80,"v":13.7},{"t":1985.94,"v":4.1},{"t":1986.08,"v":10.9},{"t":1986.23,"v":15},{"t":1986.32,"v":-9.6},{"t":1986.44,"v":4.1},{"t":1986.58,"v":-4.1},{"t":1986.73,"v":-6.8},{"t":1986.83,"v":14.3},{"t":1986.90,"v":-9.6},{"t":1987.04,"v":14.3},{"t":1987.15,"v":-11.6},{"t":1987.28,"v":0},{"t":1987.42,"v":0.7},{"t":1987.57,"v":0},{"t":1987.71,"v":10.9},{"t":1987.85,"v":0},{"t":1987.95,"v":-2.7},{"t":1988.04,"v":19.1},{"t":1988.17,"v":6.8},{"t":1988.30,"v":4.1},{"t":1988.43,"v":5.5},{"t":1988.57,"v":-2},{"t":1988.67,"v":6.1},{"t":1988.78,"v":4.1},{"t":1988.90,"v":14.3},{"t":1989.05,"v":13.7},{"t":1989.16,"v":11.6},{"t":1989.29,"v":-5.5},{"t":1989.41,"v":6.8},{"t":1989.53,"v":2.7},{"t":1989.67,"v":1.4},{"t":1989.81,"v":3.4},{"t":1989.96,"v":1.4},{"t":1990.05,"v":-4.1},{"t":1990.15,"v":8.9}]
},
"vconcat":[
{"width":1330,"height":45,"layer":[
 {"data":{"name":"pt"},"transform":[{"filter":"datum.p == 'P'"}],"mark":{"type":"text","font":"DejaVu Sans Condensed, sans-serif","fontSize":12,"baseline":"middle","dy":3,"dx":-3,"color":"#111"},
  "encoding":{"x":{"field":"t","type":"quantitative","scale":{"domain":[1952.91,1991.05],"nice":false,"zero":false},"axis":null},"y":{"datum":"m","type":"nominal","scale":{"domain":["m","p"]},"axis":null},"text":{"field":"m"}}},
 {"data":{"name":"pt"},"transform":[{"filter":"datum.p == 'T'"}],"mark":{"type":"text","font":"DejaVu Sans Condensed, sans-serif","fontSize":12,"baseline":"middle","dy":3,"dx":3,"color":"#111"},
  "encoding":{"x":{"field":"t","type":"quantitative","axis":null},"y":{"datum":"m","type":"nominal","axis":null},"text":{"field":"m"}}},
 {"data":{"name":"pt"},"mark":{"type":"text","font":"DejaVu Sans Condensed, sans-serif","fontSize":13,"baseline":"middle","dy":4,"color":"#111"},
  "encoding":{"x":{"field":"t","type":"quantitative","axis":null},"y":{"datum":"p","type":"nominal","axis":null},"text":{"field":"p"}}}
]},
{"width":1330,"height":290,"layer":[
 {"data":{"name":"rec"},"transform":[{"filter":"datum.s > 1955"}],"mark":{"type":"rect","color":"#c3c3c3"},"encoding":{"x":{"field":"s","type":"quantitative","scale":{"domain":[1952.91,1991.05],"nice":false,"zero":false},"axis":null},"x2":{"field":"e"}}},
 {"data":{"name":"rec"},"transform":[{"filter":"datum.s < 1955"}],"mark":{"type":"rect","color":"#dedede"},"encoding":{"x":{"field":"s","type":"quantitative","axis":null},"x2":{"field":"e"}}},
 {"data":{"name":"g1"},"transform":[{"filter":"datum.g > -30"}],"mark":{"type":"rule","color":"#1e1e1e","strokeWidth":2},"encoding":{"y":{"field":"g","type":"quantitative","scale":{"domain":[-40,78.9],"nice":false,"zero":false},"axis":null}}},
 {"data":{"values":[{}]},"mark":{"type":"rule","color":"#1e1e1e","strokeWidth":2},"encoding":{"x":{"datum":1974.13,"axis":null},"x2":{"datum":1991.05},"y":{"datum":-30,"axis":null}}},
 {"data":{"values":[{}]},"mark":{"type":"rule","color":"#1e1e1e","strokeWidth":2},"encoding":{"x":{"datum":1991.05,"axis":null},"y":{"datum":-30,"axis":null},"y2":{"datum":30}}},
 {"data":{"values":[{}]},"mark":{"type":"rule","color":"#1e1e1e","strokeWidth":1.5},"encoding":{"x":{"datum":1992.43,"axis":null},"y":{"datum":-30,"axis":null},"y2":{"datum":30}}},
 {"data":{"name":"g1"},"mark":{"type":"rule","color":"#1e1e1e","strokeWidth":1.5},"encoding":{"x":{"datum":1992.23,"axis":null},"x2":{"datum":1992.43},"y":{"field":"g","type":"quantitative","axis":null}}},
 {"data":{"name":"g1"},"mark":{"type":"text","align":"right","baseline":"middle","font":"DejaVu Sans Condensed, sans-serif","fontSize":13,"color":"#111"},"encoding":{"x":{"datum":1992.17,"axis":null},"y":{"field":"g","type":"quantitative","axis":null},"text":{"field":"g","type":"quantitative"}}},
 {"data":{"values":[{}]},"mark":{"type":"rect","fill":"white","stroke":"#1e1e1e","strokeWidth":1.5},"encoding":{"x":{"datum":1990.11,"axis":null},"x2":{"datum":1990.82},"y":{"datum":20,"axis":null},"y2":{"datum":30}}},
 {"data":{"values":[{}]},"mark":{"type":"text","text":"3","font":"DejaVu Sans Condensed, sans-serif","fontWeight":"bold","fontSize":16,"color":"#111","baseline":"middle"},"encoding":{"x":{"datum":1990.46,"axis":null},"y":{"datum":25,"axis":null}}},
 {"data":{"name":"p1"},"mark":{"type":"line","color":"#111","strokeWidth":3.6,"clip":true,"strokeJoin":"round"},"encoding":{"x":{"field":"t","type":"quantitative","axis":null},"y":{"field":"v","type":"quantitative","axis":null}}},
 {"data":{"name":"p1d"},"mark":{"type":"line","color":"#111","strokeWidth":1.8,"strokeDash":[5,3],"clip":true},"encoding":{"x":{"field":"t","type":"quantitative","axis":null},"y":{"field":"v","type":"quantitative","axis":null}}},
 {"data":{"values":[{}]},"mark":{"type":"text","text":"910c. Composite index of 11 leading indicators","font":"DejaVu Sans Condensed, sans-serif","fontWeight":"bold","fontSize":19.5,"color":"#111","baseline":"middle"},"encoding":{"x":{"datum":1971.9,"axis":null},"y":{"datum":42.8,"axis":null}}},
 {"data":{"values":[{}]},"mark":{"type":"text","text":"Scale A","angle":270,"font":"DejaVu Sans Condensed, sans-serif","fontSize":13,"color":"#111","baseline":"middle"},"encoding":{"x":{"datum":1993.15,"axis":null},"y":{"datum":0,"axis":null}}},
 {"data":{"values":[{}]},"mark":{"type":"rect","filled":false,"color":"#1e1e1e","strokeWidth":1.5},"encoding":{"x":{"datum":1954.86,"axis":null},"x2":{"datum":1963.52},"y":{"datum":55.1,"axis":null},"y2":{"datum":69.5}}},
 {"data":{"values":[{}]},"mark":{"type":"text","text":"Percent change at annual rate","font":"DejaVu Sans Condensed, sans-serif","fontWeight":"bold","fontSize":18.2,"color":"#111","baseline":"middle"},"encoding":{"x":{"datum":1959.19,"axis":null},"y":{"datum":62.3,"axis":null}}},
 {"data":{"values":[{}]},"mark":{"type":"rect","fill":"white","stroke":"#1e1e1e","strokeWidth":1.5},"encoding":{"x":{"datum":1983.68,"axis":null},"x2":{"datum":1990.08},"y":{"datum":42.4,"axis":null},"y2":{"datum":69.9}}},
 {"data":{"values":[{}]},"mark":{"type":"text","text":"1-month span","align":"left","font":"DejaVu Sans Condensed, sans-serif","fontWeight":"bold","fontSize":18,"color":"#111","baseline":"middle"},"encoding":{"x":{"datum":1983.94,"axis":null},"y":{"datum":61.7,"axis":null}}},
 {"data":{"values":[{}]},"mark":{"type":"text","text":"3-month span","align":"left","font":"DejaVu Sans Condensed, sans-serif","fontWeight":"bold","fontSize":18,"color":"#111","baseline":"middle"},"encoding":{"x":{"datum":1983.94,"axis":null},"y":{"datum":50.2,"axis":null}}},
 {"data":{"values":[{}]},"mark":{"type":"rule","color":"#111","strokeWidth":2.2,"strokeDash":[10,6]},"encoding":{"x":{"datum":1987.8,"axis":null},"x2":{"datum":1989.67},"y":{"datum":61.3,"axis":null}}},
 {"data":{"values":[{}]},"mark":{"type":"rule","color":"#111","strokeWidth":2.4},"encoding":{"x":{"datum":1987.86,"axis":null},"x2":{"datum":1989.67},"y":{"datum":49.6,"axis":null}}}
]},
{"width":1330,"height":205,"layer":[
 {"data":{"name":"rec"},"transform":[{"filter":"datum.s > 1955"}],"mark":{"type":"rect","color":"#c3c3c3"},"encoding":{"x":{"field":"s","type":"quantitative","scale":{"domain":[1952.91,1991.05],"nice":false,"zero":false},"axis":null},"x2":{"field":"e"}}},
 {"data":{"name":"rec"},"transform":[{"filter":"datum.s < 1955"}],"mark":{"type":"rect","color":"#dedede"},"encoding":{"x":{"field":"s","type":"quantitative","axis":null},"x2":{"field":"e"}}},
 {"data":{"name":"g2"},"mark":{"type":"rule","color":"#1e1e1e","strokeWidth":2},"encoding":{"y":{"field":"g","type":"quantitative","scale":{"domain":[-33.3,51.0],"nice":false,"zero":false},"axis":null}}},
 {"data":{"values":[{}]},"mark":{"type":"rule","color":"#1e1e1e","strokeWidth":2},"encoding":{"x":{"datum":1991.05,"axis":null},"y":{"datum":-20,"axis":null},"y2":{"datum":30}}},
 {"data":{"values":[{}]},"mark":{"type":"rule","color":"#1e1e1e","strokeWidth":1.5},"encoding":{"x":{"datum":1992.43,"axis":null},"y":{"datum":-20,"axis":null},"y2":{"datum":30}}},
 {"data":{"name":"g2"},"mark":{"type":"rule","color":"#1e1e1e","strokeWidth":1.5},"encoding":{"x":{"datum":1992.23,"axis":null},"x2":{"datum":1992.43},"y":{"field":"g","type":"quantitative","axis":null}}},
 {"data":{"name":"g2"},"mark":{"type":"text","align":"right","baseline":"middle","font":"DejaVu Sans Condensed, sans-serif","fontSize":13,"color":"#111"},"encoding":{"x":{"datum":1992.17,"axis":null},"y":{"field":"g","type":"quantitative","axis":null},"text":{"field":"g","type":"quantitative"}}},
 {"data":{"values":[{}]},"mark":{"type":"rect","fill":"white","stroke":"#1e1e1e","strokeWidth":1.5},"encoding":{"x":{"datum":1990.11,"axis":null},"x2":{"datum":1990.82},"y":{"datum":20,"axis":null},"y2":{"datum":30}}},
 {"data":{"values":[{}]},"mark":{"type":"text","text":"3","font":"DejaVu Sans Condensed, sans-serif","fontWeight":"bold","fontSize":16,"color":"#111","baseline":"middle"},"encoding":{"x":{"datum":1990.46,"axis":null},"y":{"datum":25,"axis":null}}},
 {"data":{"name":"p2"},"mark":{"type":"line","color":"#111","strokeWidth":3.6,"clip":true,"strokeJoin":"round"},"encoding":{"x":{"field":"t","type":"quantitative","axis":null},"y":{"field":"v","type":"quantitative","axis":null}}},
 {"data":{"name":"p2d"},"mark":{"type":"line","color":"#111","strokeWidth":1.8,"strokeDash":[5,3],"clip":true},"encoding":{"x":{"field":"t","type":"quantitative","axis":null},"y":{"field":"v","type":"quantitative","axis":null}}},
 {"data":{"values":[{}]},"mark":{"type":"text","text":"920c. Composite index of 4 coincident indicators","font":"DejaVu Sans Condensed, sans-serif","fontWeight":"bold","fontSize":19.5,"color":"#111","baseline":"middle"},"encoding":{"x":{"datum":1971.12,"axis":null},"y":{"datum":38.3,"axis":null}}},
 {"data":{"values":[{}]},"mark":{"type":"text","text":"Scale A","angle":270,"font":"DejaVu Sans Condensed, sans-serif","fontSize":13,"color":"#111","baseline":"middle"},"encoding":{"x":{"datum":1993.15,"axis":null},"y":{"datum":5,"axis":null}}}
]},
{"width":1330,"height":256,"layer":[
 {"data":{"name":"rec"},"transform":[{"filter":"datum.s > 1955"}],"mark":{"type":"rect","color":"#c3c3c3"},"encoding":{"x":{"field":"s","type":"quantitative","scale":{"domain":[1952.91,1991.05],"nice":false,"zero":false},"axis":null},"x2":{"field":"e"}}},
 {"data":{"name":"rec"},"transform":[{"filter":"datum.s < 1955"}],"mark":{"type":"rect","color":"#dedede"},"encoding":{"x":{"field":"s","type":"quantitative","axis":null},"x2":{"field":"e"}}},
 {"data":{"name":"g3"},"transform":[{"filter":"datum.g > -40"}],"mark":{"type":"rule","color":"#1e1e1e","strokeWidth":2},"encoding":{"y":{"field":"g","type":"quantitative","scale":{"domain":[-41.8,63.3],"nice":false,"zero":false},"axis":null}}},
 {"data":{"values":[{}]},"mark":{"type":"rule","color":"#1e1e1e","strokeWidth":2},"encoding":{"x":{"datum":1974.13,"axis":null},"x2":{"datum":1991.05},"y":{"datum":-40,"axis":null}}},
 {"data":{"values":[{}]},"mark":{"type":"rule","color":"#1e1e1e","strokeWidth":2},"encoding":{"x":{"datum":1991.05,"axis":null},"y":{"datum":-40,"axis":null},"y2":{"datum":40}}},
 {"data":{"values":[{}]},"mark":{"type":"rule","color":"#1e1e1e","strokeWidth":1.5},"encoding":{"x":{"datum":1992.43,"axis":null},"y":{"datum":-40,"axis":null},"y2":{"datum":40}}},
 {"data":{"name":"g3"},"mark":{"type":"rule","color":"#1e1e1e","strokeWidth":1.5},"encoding":{"x":{"datum":1992.23,"axis":null},"x2":{"datum":1992.43},"y":{"field":"g","type":"quantitative","axis":null}}},
 {"data":{"name":"g3"},"mark":{"type":"text","align":"right","baseline":"middle","font":"DejaVu Sans Condensed, sans-serif","fontSize":13,"color":"#111"},"encoding":{"x":{"datum":1992.17,"axis":null},"y":{"field":"g","type":"quantitative","axis":null},"text":{"field":"g","type":"quantitative"}}},
 {"data":{"values":[{}]},"mark":{"type":"rect","fill":"white","stroke":"#1e1e1e","strokeWidth":1.5},"encoding":{"x":{"datum":1990.11,"axis":null},"x2":{"datum":1990.82},"y":{"datum":20,"axis":null},"y2":{"datum":30}}},
 {"data":{"values":[{}]},"mark":{"type":"text","text":"3","font":"DejaVu Sans Condensed, sans-serif","fontWeight":"bold","fontSize":16,"color":"#111","baseline":"middle"},"encoding":{"x":{"datum":1990.46,"axis":null},"y":{"datum":25,"axis":null}}},
 {"data":{"name":"p3"},"mark":{"type":"line","color":"#111","strokeWidth":3.6,"clip":true,"strokeJoin":"round"},"encoding":{"x":{"field":"t","type":"quantitative","axis":null},"y":{"field":"v","type":"quantitative","axis":null}}},
 {"data":{"name":"p3d"},"mark":{"type":"line","color":"#111","strokeWidth":1.8,"strokeDash":[5,3],"clip":true},"encoding":{"x":{"field":"t","type":"quantitative","axis":null},"y":{"field":"v","type":"quantitative","axis":null}}},
 {"data":{"values":[{}]},"mark":{"type":"text","text":"930c. Composite index of 7 lagging indicators","font":"DejaVu Sans Condensed, sans-serif","fontWeight":"bold","fontSize":19.5,"color":"#111","baseline":"middle"},"encoding":{"x":{"datum":1972.2,"axis":null},"y":{"datum":47.7,"axis":null}}},
 {"data":{"values":[{}]},"mark":{"type":"text","text":"Scale A","angle":270,"font":"DejaVu Sans Condensed, sans-serif","fontSize":13,"color":"#111","baseline":"middle"},"encoding":{"x":{"datum":1993.15,"axis":null},"y":{"datum":0,"axis":null}}}
]}
]
}
